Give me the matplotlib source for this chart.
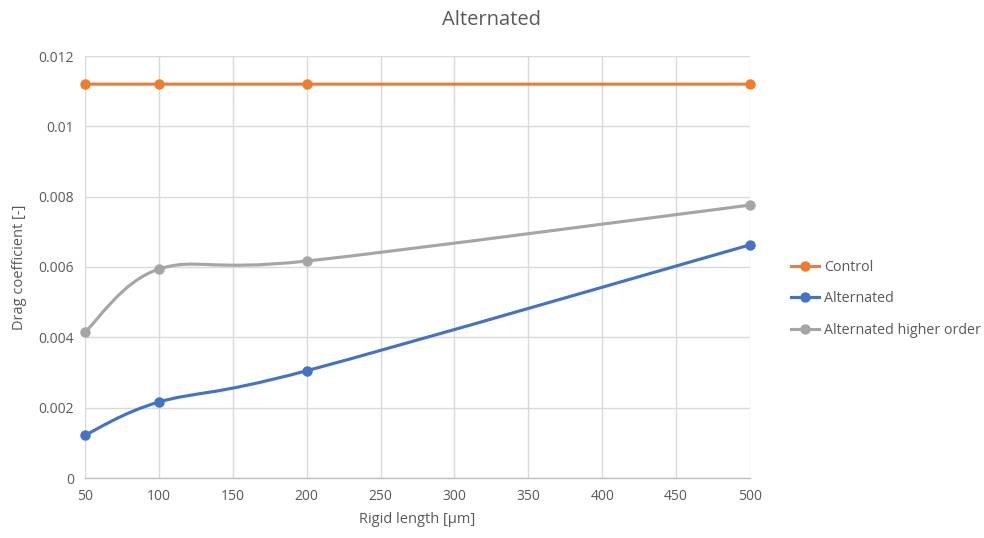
import matplotlib
matplotlib.use("Agg")
import matplotlib.pyplot as plt
from matplotlib.path import Path
from matplotlib.patches import PathPatch
from matplotlib.lines import Line2D
import numpy as np

plt.rcParams['font.family'] = ['Open Sans', 'DejaVu Sans']

rigid_length = [50, 100, 200, 500]
control = [0.0112, 0.0112, 0.0112, 0.0112]
alternated = [0.00122, 0.00216, 0.00305, 0.00663]
alternated_higher = [0.00415, 0.00594, 0.00617, 0.00776]

series_names = ["Control", "Alternated", "Alternated higher order"]
colors = ["#ED7D31", "#4472C4", "#A5A5A5"]
x_ticks = [50, 100, 150, 200, 250, 300, 350, 400, 450, 500]
y_ticks = [0, 0.002, 0.004, 0.006, 0.008, 0.01, 0.012]
y_tick_labels = ["0", "0.002", "0.004", "0.006", "0.008", "0.01", "0.012"]

TXT = "#595959"

fig = plt.figure(figsize=(9.84, 5.38), dpi=100)
ax = fig.add_axes([85/984, 1-478/538, (750-85)/984, (478-56)/538])


def smooth_path(xs, ys):
    pts = np.column_stack([xs, ys]).astype(float)
    n = len(pts)
    verts = [pts[0]]
    codes = [Path.MOVETO]
    for i in range(n - 1):
        p0 = pts[i - 1] if i > 0 else pts[i]
        p1 = pts[i]
        p2 = pts[i + 1]
        p3 = pts[i + 2] if i + 2 < n else pts[i + 1]
        c1 = p1 + (p2 - p0) / 6.0
        c2 = p2 - (p3 - p1) / 6.0
        verts += [c1, c2, p2]
        codes += [Path.CURVE4] * 3
    return Path(verts, codes)


handles = []
for name, ys, c in zip(series_names, [control, alternated, alternated_higher], colors):
    patch = PathPatch(smooth_path(rigid_length, ys), facecolor='none', edgecolor=c,
                      lw=2.25, capstyle='round', joinstyle='round', zorder=3)
    ax.add_patch(patch)
    ax.plot(rigid_length, ys, linestyle='none', marker='o', markersize=6.5,
            color=c, zorder=4, clip_on=False)
    handles.append(Line2D([0], [0], color=c, lw=2.25, marker='o', markersize=6.5))

ax.set_xlim(50, 500)
ax.set_ylim(0, 0.012)
ax.set_xticks(x_ticks)
ax.set_xticklabels([str(v) for v in x_ticks])
ax.set_yticks(y_ticks)
ax.set_yticklabels(y_tick_labels)
ax.grid(True, color="#D9D9D9", lw=1)
ax.set_axisbelow(True)
for s in ['top', 'right', 'left']:
    ax.spines[s].set_visible(False)
ax.spines['bottom'].set_color("#BFBFBF")
ax.spines['bottom'].set_linewidth(1)
ax.tick_params(axis='both', length=0, labelsize=10, labelcolor=TXT, pad=8)

ax.set_xlabel("Rigid length [µm]", fontsize=10.5, color=TXT, labelpad=6)
ax.set_ylabel("Drag coefficient [-]", fontsize=10.5, color=TXT, labelpad=8)
fig.text(491/984, 1-20/538, "Alternated", ha='center', va='center', fontsize=14.5, color=TXT)

fig.legend(handles, series_names, loc='center left', bbox_to_anchor=(778/984, 1-299/538),
           frameon=False, fontsize=10.3, labelcolor=TXT, handlelength=2.0,
           handletextpad=0.3, labelspacing=1.15)

fig.savefig("out.png", dpi=100)
